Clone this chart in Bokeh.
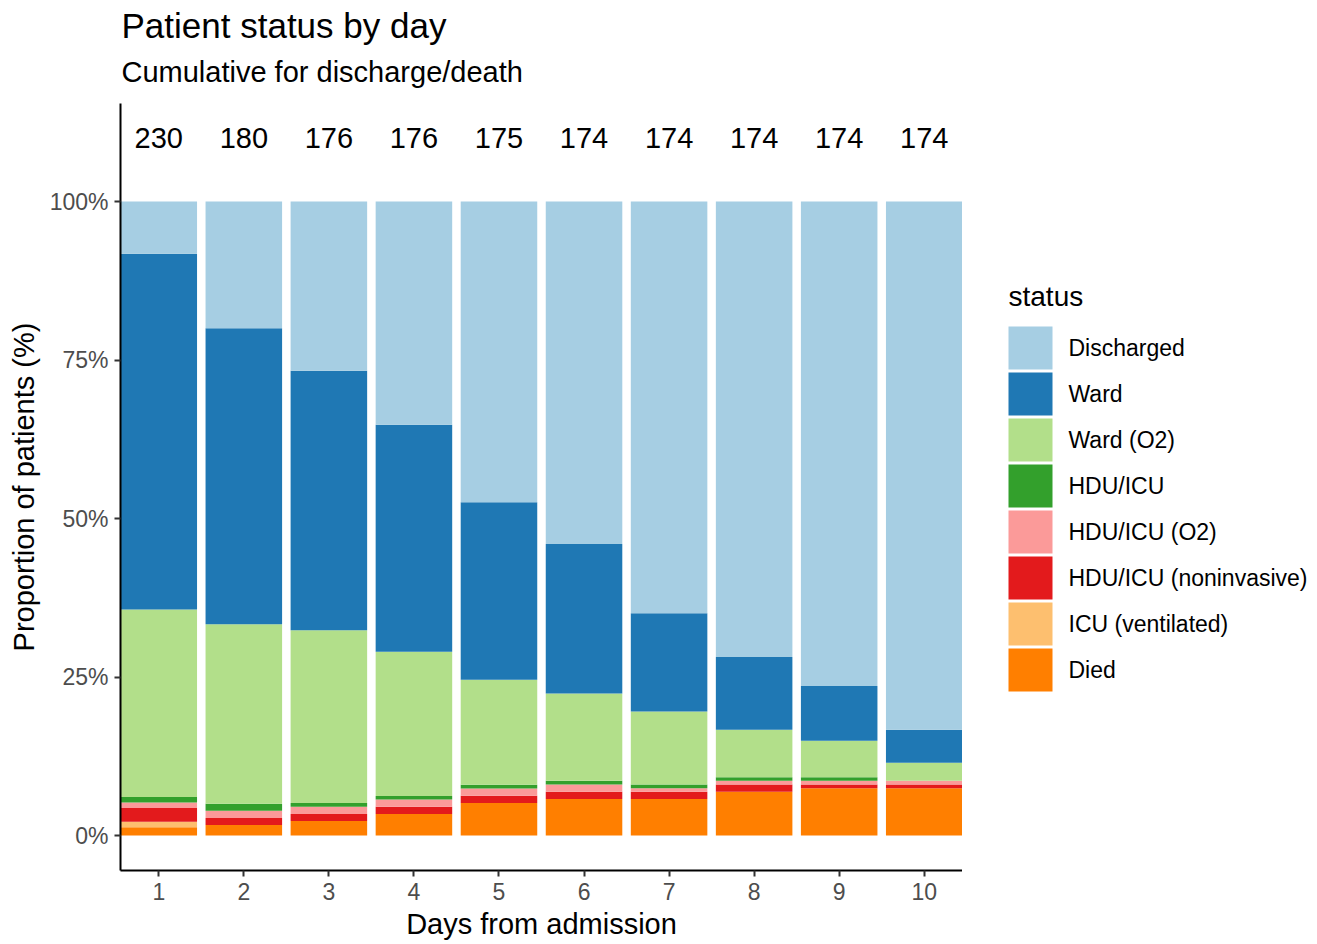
from bokeh.plotting import figure
from bokeh.layouts import row, column
from bokeh.models import (ColumnDataSource, FixedTicker, NumeralTickFormatter, Range1d)
from bokeh.core.properties import value
from bokeh.embed import file_html
from bokeh.resources import INLINE

# ---------------- data ----------------
days = [1, 2, 3, 4, 5, 6, 7, 8, 9, 10]
n_patients = [230, 180, 176, 176, 175, 174, 174, 174, 174, 174]

# status order from bottom of the stack to top
statuses = ["Died", "ICU (ventilated)", "HDU/ICU (noninvasive)", "HDU/ICU (O2)",
            "HDU/ICU", "Ward (O2)", "Ward", "Discharged"]

died = [3, 3, 4, 6, 9, 10, 10, 12, 13, 13]
icu_ventilated = [2, 0, 0, 0, 0, 0, 0, 0, 0, 0]
hdu_noninvasive = [5, 2, 2, 2, 2, 2, 2, 2, 1, 1]
hdu_o2 = [2, 2, 2, 2, 2, 2, 1, 1, 1, 1]
hdu_icu = [2, 2, 1, 1, 1, 1, 1, 1, 1, 0]
ward_o2 = [68, 51, 48, 40, 29, 24, 20, 13, 10, 5]
ward = [129, 84, 72, 63, 49, 41, 27, 20, 15, 9]
discharged = [19, 36, 47, 62, 83, 94, 113, 125, 133, 145]

status_colors = ["#FF7F00", "#FDBF6F", "#E31A1C", "#FB9A99",
                 "#33A02C", "#B2DF8A", "#1F78B4", "#A6CEE3"]

y_ticks = [0, 0.25, 0.5, 0.75, 1.0]

# ---------------- layout constants (pixels) ----------------
FONT = "Liberation Sans"
TOTAL_W, TOTAL_H = 1317, 944
HEAD_H = 103                     # height of the title strip (= top of the panel)
MAIN_W = 962                     # main figure width (panel right edge)
LEFT = 120                       # panel left edge
FRAME_BOTTOM = 870               # x axis position (page pixels)
BELOW = TOTAL_H - FRAME_BOTTOM   # space under the panel
ZERO_PX = 835                    # page pixel row of 0 %
PX_PER_Y = 634.0                 # pixels per 100 %
X_LO, X_HI = 0.55, 10.45
Y_LO = -(FRAME_BOTTOM - ZERO_PX) / PX_PER_Y
Y_HI = (ZERO_PX - HEAD_H) / PX_PER_Y
BODY_H = TOTAL_H - HEAD_H


def bare(fig):
    fig.xgrid.visible = False
    fig.ygrid.visible = False
    return fig


# ---------------- title strip ----------------
head = bare(figure(width=TOTAL_W, height=HEAD_H,
                   x_range=Range1d(LEFT, MAIN_W), y_range=Range1d(HEAD_H, 0),
                   x_axis_type=None, y_axis_type=None,
                   output_backend="svg", toolbar_location=None, tools="",
                   min_border_left=LEFT, min_border_right=TOTAL_W - MAIN_W,
                   min_border_top=0, min_border_bottom=0,
                   outline_line_color=None,
                   background_fill_color="white", border_fill_color="white"))
head.text(x=[121], y=[25], text=["Patient status by day"],
          text_font=value(FONT), text_font_size="35px", text_color="black",
          text_align="left", text_baseline="middle")
head.text(x=[121], y=[71], text=["Cumulative for discharge/death"],
          text_font=value(FONT), text_font_size="29px", text_color="black",
          text_align="left", text_baseline="middle")

# ---------------- main plot ----------------
counts = [died, icu_ventilated, hdu_noninvasive, hdu_o2, hdu_icu, ward_o2, ward, discharged]
data = {"day": days, "n_label": [str(n) for n in n_patients]}
for s, c in zip(statuses, counts):
    data[s] = [v / n for v, n in zip(c, n_patients)]
src = ColumnDataSource(data)

p = bare(figure(width=MAIN_W, height=BODY_H, title=None,
                x_range=Range1d(X_LO, X_HI), y_range=Range1d(Y_LO, Y_HI),
                output_backend="svg", toolbar_location=None, tools="",
                min_border_left=LEFT, min_border_right=0,
                min_border_top=0, min_border_bottom=BELOW,
                background_fill_color="white", border_fill_color="white",
                outline_line_color=None))

renderers = p.vbar_stack(statuses, x="day", width=0.9, source=src,
                         fill_color=status_colors, line_color=None)

p.text(x="day", y=1.1, text="n_label", source=src,
       text_font=value(FONT), text_font_size="29px", text_color="black",
       text_align="center", text_baseline="middle")

for ax in (p.xaxis[0], p.yaxis[0]):
    ax.axis_line_color = "black"
    ax.axis_line_width = 2
    ax.major_tick_line_color = "#333333"
    ax.major_tick_line_width = 2
    ax.major_tick_out = 6
    ax.major_tick_in = 0
    ax.minor_tick_line_color = None
    ax.major_label_text_color = "#4D4D4D"
    ax.major_label_text_font = FONT
    ax.major_label_text_font_size = "23px"
    ax.axis_label_text_font = FONT
    ax.axis_label_text_font_size = "29px"
    ax.axis_label_text_font_style = "normal"
    ax.axis_label_text_color = "black"
p.xaxis.ticker = FixedTicker(ticks=days)
p.xaxis.major_label_standoff = 6
p.xaxis.axis_label = "Days from admission"
p.xaxis.axis_label_standoff = 5
p.yaxis.ticker = FixedTicker(ticks=y_ticks)
p.yaxis.formatter = NumeralTickFormatter(format="0%")
p.yaxis.major_label_standoff = 6
p.yaxis.axis_label = "Proportion of patients (%)"
p.yaxis.axis_label_standoff = 7

# ---------------- legend panel (page pixel coordinates) ----------------
leg = bare(figure(width=TOTAL_W - MAIN_W, height=BODY_H,
                  x_range=Range1d(MAIN_W, TOTAL_W), y_range=Range1d(FRAME_BOTTOM, HEAD_H),
                  x_axis_type=None, y_axis_type=None,
                  output_backend="svg", toolbar_location=None, tools="",
                  min_border_left=0, min_border_right=0,
                  min_border_top=0, min_border_bottom=BELOW,
                  outline_line_color=None,
                  background_fill_color="white", border_fill_color="white"))

leg_labels = list(reversed(statuses))
leg_colors = list(reversed(status_colors))
KEY_L, KEY_W, KEY_H, KEY_TOP, KEY_PITCH = 1008, 44, 43, 326, 46
tops = [KEY_TOP + i * KEY_PITCH for i in range(len(leg_labels))]
leg.quad(left=KEY_L, right=KEY_L + KEY_W,
         top=tops, bottom=[t + KEY_H for t in tops],
         fill_color=leg_colors, line_color=None)
leg.text(x=KEY_L + KEY_W + 16, y=[t + KEY_H / 2 for t in tops], text=leg_labels,
         text_font=value(FONT), text_font_size="23px", text_color="black",
         text_align="left", text_baseline="middle")
leg.text(x=[KEY_L], y=[296], text=["status"],
         text_font=value(FONT), text_font_size="28px", text_color="black",
         text_align="left", text_baseline="middle")

layout = column(head, row(p, leg, spacing=0), spacing=0)
open("out.html", "w").write(file_html(layout, INLINE))
